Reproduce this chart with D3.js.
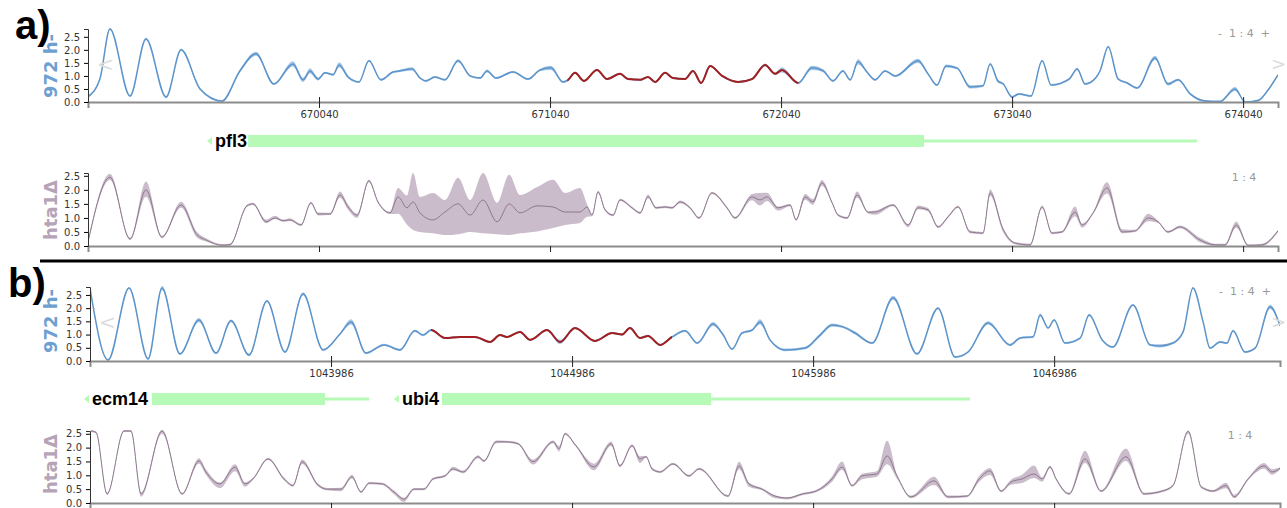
<!DOCTYPE html>
<html>
<head>
<meta charset="utf-8">
<script src="https://cdn.jsdelivr.net/npm/d3@7"></script>
<style>
  body { margin: 0; background: #fff; }
  svg { display: block; font-family: "DejaVu Sans", sans-serif; }
</style>
</head>
<body>
<svg id="chart" width="1287" height="508"></svg>
<script>
// genomic windows (bp offsets are relative to these starts)
var startA = 669040, startB = 1042986;
var spanA = [0, 5151], spanB = [0, 4937];
var ticksA = [1000, 2000, 3000, 4000, 5000];
var ticksB = [1000, 2000, 3000, 4000];
var yTicks = [0, 0.5, 1, 1.5, 2, 2.5];
var highlightA = [2075, 3075], highlightB = [1415, 2415];

// genes: name, arrow tip, thick start, thick end, thin end
var genesA = [["pfl3", 515, 693, 3619, 4801]];
var genesB = [["ecm14", -25, 257, 975, 1158], ["ubi4", 1261, 1460, 2577, 3651]];

// occupancy tracks: [pos, mean, spread] (wt) or [pos, mean, down, up] (hta1)
var wtA = [
  [0,0.2],[52,0.9],[95,2.8],[182,0.23],[251,2.42],[338,0.19],[403,2.0],[485,0.5],[580,0.04],
  [658,1.2,0.06],[727,1.85,0.08],[805,0.69],[887,1.46,0.1],[931,0.85,0.08],[961,1.19,0.1],[996,0.88,0.06],
  [1026,1.12],[1061,1.05],[1087,1.42,0.1],[1126,0.96,0.06],[1173,0.77],[1216,1.58],[1268,0.85],
  [1320,1.15],[1342,1.18],[1403,1.27,0.06],[1437,0.92],[1463,0.81],[1502,0.96],[1545,0.85],
  [1602,1.58,0.06],[1654,1.0],[1697,0.92],[1727,1.19,0.06],[1766,0.92],[1840,1.15],[1905,0.88],
  [1957,1.23],[2004,1.31,0.08],[2056,0.77],[2078,0.85],[2108,1.12],[2147,0.81],[2203,1.23],
  [2247,0.88],[2303,1.08],[2338,0.88],[2390,0.85],[2424,0.96],[2455,0.77],[2498,1.12],[2532,0.92],
  [2584,0.88],[2619,1.19],[2654,0.73],[2693,1.38],[2745,1.0],[2814,0.77],[2874,0.88],[2931,1.42,0.06],
  [2974,1.08],[3004,1.23,0.1],[3074,0.73],[3134,1.31,0.08],[3182,1.2,0.06],[3225,0.81],[3268,1.19],
  [3299,0.85],[3333,1.54,0.1],[3372,1.15],[3407,0.85],[3450,1.19],[3494,1.0],[3593,1.58,0.08],
  [3636,1.08],[3675,0.65],[3714,1.38,0.06],[3762,1.3],[3818,0.58,0.06],[3874,0.62],[3905,1.46],
  [3939,0.8,0.06],[3961,0.7],[4000,0.19],[4030,0.31],[4082,0.23],[4130,1.58],[4169,0.65],[4247,0.88],
  [4282,1.27],[4316,0.69],[4364,0.95],[4381,1.2],[4416,2.12],[4459,0.88],[4498,0.73],[4542,0.54],
  [4619,1.69,0.08],[4675,0.69,0.06],[4719,0.85],[4771,0.31],[4836,0.04],[4900,0.02],[4965,0.5,0.08],
  [5009,0.0],[5065,0.06],[5108,0.46],[5151,1.04]
];

var mutA = [
  [0,0.14],[95,2.45,0.1,0.12],[182,0.25],[251,2.0,0.25,0.3],[320,0.32],[403,1.46,0.1,0.12],
  [472,0.4,0.1,0.1],[515,0.2,0.05,0.06],[580,0.03],[615,0.05],[688,1.43],[714,1.5],[771,0.86,0.05,0.08],
  [810,1.0,0.04,0.08],[844,0.9],[874,0.93,0.04,0.06],[922,0.75],[965,1.54],[996,1.14,0.05,0.05],
  [1048,1.14],[1091,1.82,0.1,0.12],[1126,1.39,0.1,0.08],[1165,1.1,0.1,0.05],[1216,2.32,0.05,0.05],
  [1255,1.57],[1307,1.18],[1342,1.75,0.6,0.32],[1381,1.36,0.6,0.44],[1407,1.57,1.0,1.03],
  [1437,1.18,0.68,0.57],[1493,0.93,0.48,0.96],[1545,1.21,0.82,0.43],[1602,1.5,1.08,0.93],
  [1654,1.1,0.6,0.54],[1710,1.64,1.19,0.96],[1771,0.86,0.44,0.68],[1823,1.5,1.11,1.04],
  [1870,1.18,0.73,0.64],[1944,1.43,0.91,0.67],[2013,1.39,0.75,0.97],[2065,1.21,0.46,0.68],
  [2130,1.21,0.39,0.86],[2160,1.39,0.35,0.11],[2182,1.1],[2208,1.93],[2238,1.29],[2273,1.1],
  [2303,1.64],[2355,1.36],[2390,1.18],[2424,1.75,0.04,0.08],[2459,1.36],[2498,1.39],[2528,1.36],
  [2563,1.57,0.05,0.05],[2606,1.36],[2645,1.0],[2701,1.89],[2766,1.36],[2801,1.0],
  [2874,1.75,0.12,0.1],[2909,1.64,0.2,0.25],[2939,1.75,0.15,0.15],[2987,1.36,0.1,0.05],[3039,1.46],
  [3065,0.93],[3104,1.75,0.1,0.1],[3138,1.57,0.1,0.1],[3177,2.25,0.1,0.1],[3221,1.54],[3247,1.1],
  [3286,1.0],[3329,1.82,0.1,0.12],[3377,1.2],[3407,1.21,0.1,0.05],[3485,1.46],[3550,0.75,0.08,0.03],
  [3593,1.36,0.05,0.08],[3636,1.29,0.06,0.06],[3680,0.68],[3723,1.04],[3766,1.39],[3818,0.5,0.05,0.05],
  [3874,0.46],[3905,1.89,0.1,0.12],[3961,0.6,0.1,0.05],[4013,0.1],[4078,0.04],[4130,1.39,0.05,0.05],
  [4173,0.46],[4216,0.5],[4273,1.21,0.15,0.2],[4303,0.75,0.1,0.05],[4351,1.18],[4411,2.07,0.2,0.2],
  [4476,0.5,0.05,0.1],[4533,0.54],[4589,1.0,0.12,0.15],[4632,0.86],[4675,0.5],[4727,0.68,0.05,0.05],
  [4814,0.21,0.08,0.08],[4879,0.04],[4922,0.04],[4970,0.75,0.1,0.12],[5022,0.02],[5082,0.04],[5151,0.54]
];

var wtB = [
  [0,2.75],[75,0.04],[162,2.76],[241,0.08],[299,2.76,0.08],[373,0.27],[452,1.55,0.08],[523,0.3],
  [585,1.52,0.05],[660,0.23,0.05],[734,2.27],[809,0.34],[884,2.54,0.06],[967,0.42],[1037,1.02],
  [1083,1.48,0.1],[1145,0.3],[1220,0.61],[1286,0.42],[1348,1.14],[1382,0.98],[1415,1.17],
  [1473,0.87],[1535,0.91],[1597,0.91],[1660,0.72],[1701,0.98],[1730,0.91],[1784,1.1],[1826,0.8],
  [1896,1.17],[1950,0.72,0.08],[2012,1.25],[2095,0.76],[2166,1.06],[2207,1.0],[2240,1.25],[2282,0.87],
  [2315,0.95],[2365,0.61],[2415,0.91],[2469,1.14],[2519,0.68],[2585,1.4,0.08],[2626,1.0],[2664,0.45],
  [2705,1.06],[2747,1.17],[2780,1.48,0.1],[2821,0.8],[2884,0.42,0.05],[2967,0.49,0.05],[3029,0.98,0.06],
  [3079,1.36,0.06],[3124,1.29],[3174,1.06,0.06],[3245,0.68],[3332,2.39,0.08],[3431,0.27],[3518,2.0],
  [3589,0.15],[3643,0.34],[3726,1.44,0.06],[3817,0.61],[3859,0.87],[3913,0.92],[3942,1.74,0.06],
  [3975,1.25],[4000,1.55],[4045,0.68],[4108,0.87],[4145,1.74,0.05],[4199,0.8],[4244,0.53],[4327,2.12],
  [4398,0.61],[4439,0.57,0.06],[4493,0.68],[4535,1.1],[4576,2.76],[4618,1.48],[4647,0.49],[4688,0.72],
  [4717,0.68],[4742,1.14],[4792,0.34],[4834,0.49],[4896,2.05,0.08],[4937,1.33]
];

var mutB = [
  [4,2.6],[25,2.55],[71,0.33],[141,2.6],[170,2.6],[212,0.33,0.1,0.04],[299,2.6,0.1,0.05],[382,0.33],
  [452,1.52,0.1,0.1],[481,1.12,0.1,0.1],[539,0.69,0.15,0.05],[602,1.3,0.15,0.1],[643,0.69,0.1,0.05],
  [676,0.87],[739,1.59],[805,0.87,0.05,0.05],[842,0.63],[880,1.49,0.08,0.08],[946,0.65,0.05,0.05],
  [983,0.5],[1041,0.5,0.08,0.05],[1087,0.94,0.05,0.08],[1124,0.4],[1158,0.72],[1212,0.69],
  [1261,0.4,0.08,0.05],[1303,0.14,0.1,0.05],[1344,0.5],[1386,0.5],[1423,0.87],[1473,0.98],
  [1506,1.23,0.05,0.08],[1548,1.12,0.05,0.05],[1610,1.67,0.05,0.05],[1635,1.52],[1685,2.21,0.05,0.05],
  [1726,2.21],[1776,2.14],[1838,1.49,0.1,0.08],[1921,2.21,0.05,0.05],[1946,1.96,0.1,0.1],[1971,2.5],
  [2016,2.07],[2091,1.3,0.12,0.12],[2162,2.14,0.08,0.08],[2199,1.34,0.05,0.05],[2249,2.07,0.05,0.05],
  [2282,1.59,0.15,0.1],[2307,1.67],[2332,1.23,0.05,0.05],[2365,1.12],[2419,1.41],[2485,0.98],
  [2527,1.23],[2647,0.25],[2693,1.34,0.12,0.15],[2734,0.69,0.1,0.05],[2788,0.5],[2842,0.25,0.08,0.03],
  [2892,0.18,0.05,0.03],[2958,0.33],[3012,0.43],[3079,0.87,0.1,0.1],[3120,1.3,0.1,0.2],[3162,0.63],
  [3203,0.98,0.12,0.08],[3265,1.05,0.1,0.1],[3307,1.7,0.3,0.55],[3348,0.98,0.1,0.05],[3406,0.22,0.05,0.05],
  [3502,0.8,0.15,0.15],[3560,0.22,0.05,0.05],[3639,0.25],[3689,0.87,0.1,0.1],[3734,1.16,0.15,0.1],
  [3780,0.43],[3821,0.76,0.1,0.08],[3867,0.87,0.15,0.15],[3917,1.05,0.15,0.3],[3950,0.87,0.1,0.05],
  [3983,1.3,0.05,0.05],[4008,0.87],[4062,0.33],[4128,1.59,0.15,0.3],[4195,0.43],[4298,1.67,0.15,0.3],
  [4373,0.33],[4448,0.43],[4493,0.63],[4556,2.6,0.1,0],[4610,0.58],[4659,0.43],[4713,0.63,0.1,0.1],
  [4747,0.22,0.05,0.08],[4805,0.87],[4871,1.34,0.1,0.1],[4904,1.12,0.1,0.1],[4937,1.25]
];

var svg = d3.select("#chart");
var geneGreen = "#b7f9b7";

var panels = [
  { id: "a1", data: wtA, wt: true, start: startA, span: spanA, xr: [88, 1278], yr: [102, 29], ymax: 2.8,
    ticks: ticksA, labels: true, hl: highlightA, name: "972 h-", nameY: 66, ctrl: "-  1 : 4  +", ctrlX: 1244, ctrlY: 33 },
  { id: "a2", data: mutA, wt: false, start: startA, span: spanA, xr: [88, 1278], yr: [246, 173], ymax: 2.6,
    ticks: ticksA, labels: false, name: "hta1\u0394", nameY: 210, ctrl: "1 : 4", ctrlX: 1244, ctrlY: 177 },
  { id: "b1", data: wtB, wt: true, start: startB, span: spanB, xr: [90, 1280], yr: [361, 287], ymax: 2.8,
    ticks: ticksB, labels: true, hl: highlightB, name: "972 h-", nameY: 321, ctrl: "-  1 : 4  +", ctrlX: 1245, ctrlY: 291 },
  { id: "b2", data: mutB, wt: false, start: startB, span: spanB, xr: [90, 1280], yr: [503, 431], ymax: 2.6,
    ticks: ticksB, labels: false, name: "hta1\u0394", nameY: 464, ctrl: "1 : 4", ctrlX: 1240, ctrlY: 435 }
];

function lowVal(d) { return Math.max(0, d[1] - (d.length > 2 ? d[2] : 0.04)); }
function highVal(d) { return d[1] + (d.length > 3 ? d[3] : (d.length > 2 ? d[2] : 0.04)); }

function drawPanel(p) {
  var x = d3.scaleLinear().domain(p.span).range(p.xr);
  var y = d3.scaleLinear().domain([0, p.ymax]).range(p.yr);
  var g = svg.append("g");

  svg.append("clipPath").attr("id", "clip" + p.id).append("rect")
    .attr("x", p.xr[0]).attr("y", p.yr[1] - 1)
    .attr("width", p.xr[1] - p.xr[0]).attr("height", p.yr[0] - p.yr[1] + 1);

  var area = d3.area().curve(d3.curveMonotoneX)
    .x(function (d) { return x(d[0]); })
    .y0(function (d) { return y(lowVal(d)); })
    .y1(function (d) { return y(highVal(d)); });
  var line = d3.line().curve(d3.curveMonotoneX)
    .x(function (d) { return x(d[0]); })
    .y(function (d) { return y(d[1]); });

  var plot = g.append("g").attr("clip-path", "url(#clip" + p.id + ")");
  plot.append("path").datum(p.data).attr("d", area)
    .attr("fill", p.wt ? "#a6c6e6" : "#cbbccb");
  plot.append("path").datum(p.data).attr("d", line)
    .attr("fill", "none")
    .attr("stroke", p.wt ? "#5d95ca" : "#8b798d")
    .attr("stroke-width", p.wt ? 1.5 : 1);

  // highlighted stretch in red
  if (p.hl) {
    svg.append("clipPath").attr("id", "hl" + p.id).append("rect")
      .attr("x", x(p.hl[0])).attr("y", p.yr[1] - 5)
      .attr("width", x(p.hl[1]) - x(p.hl[0])).attr("height", p.yr[0] - p.yr[1] + 5);
    g.append("g").attr("clip-path", "url(#hl" + p.id + ")")
      .append("path").datum(p.data).attr("d", line)
      .attr("fill", "none").attr("stroke", "#a41f1f").attr("stroke-width", 2);
  }

  // x axis
  var xa = d3.axisBottom(x).tickValues(p.ticks).tickSize(6).tickPadding(3)
    .tickFormat(p.labels ? function (d) { return String(p.start + d); } : function () { return ""; });
  var gx = g.append("g").attr("transform", "translate(0," + p.yr[0] + ")").call(xa);
  gx.select(".domain").attr("stroke", "#8c8c8c").attr("stroke-width", 2);
  gx.selectAll(".tick line").attr("stroke", "#222");
  if (p.labels) gx.selectAll(".tick line").attr("y1", -5);
  gx.selectAll("text").attr("fill", "#333").style("font-size", "10px")
    .style("font-family", "DejaVu Sans, sans-serif");

  // y axis
  var ya = d3.axisLeft(y).tickValues(yTicks).tickFormat(d3.format(".1f")).tickSize(4).tickPadding(4);
  var gy = g.append("g").attr("transform", "translate(" + p.xr[0] + ",0)").call(ya);
  gy.select(".domain").attr("stroke", "#333");
  gy.selectAll("text").attr("fill", "#333").style("font-size", "10px")
    .style("font-family", "DejaVu Sans, sans-serif");

  // track name
  g.append("text")
    .attr("transform", "translate(57," + p.nameY + ") rotate(-90)")
    .attr("text-anchor", "middle")
    .style("font-size", "18px").style("font-weight", "bold")
    .attr("fill", p.wt ? "#6da0d1" : "#b5a3b7")
    .text(p.name);

  // zoom control
  g.append("text").attr("x", p.ctrlX).attr("y", p.ctrlY).attr("dy", "0.35em")
    .attr("text-anchor", "middle").style("font-size", "11px").attr("fill", "#999")
    .attr("xml:space", "preserve").style("white-space", "pre")
    .text(p.ctrl);

  if (p.wt) {
    var midY = (p.yr[0] + p.yr[1]) / 2;
    g.append("text").attr("x", p.xr[0] + 9).attr("y", midY - 2).attr("dy", "0.35em")
      .style("font-size", "20px").attr("fill", "#dcdcdc").text("<");
    g.append("text").attr("x", 1271).attr("y", midY - 2).attr("dy", "0.35em")
      .style("font-size", "18px").attr("fill", "#dcdcdc").text(">");
  }
  return x;
}

function drawGenes(genes, x, cy) {
  var g = svg.append("g");
  genes.forEach(function (gn) {
    var tip = x(gn[1]);
    g.append("line").attr("x1", x(gn[3])).attr("x2", x(gn[4])).attr("y1", cy).attr("y2", cy)
      .attr("stroke", geneGreen).attr("stroke-width", 3);
    g.append("rect").attr("x", x(gn[2])).attr("y", cy - 6)
      .attr("width", x(gn[3]) - x(gn[2])).attr("height", 12).attr("fill", geneGreen);
    g.append("path").attr("d", "M" + tip + "," + cy + "l5,-4v8z").attr("fill", geneGreen);
    g.append("text").attr("x", tip + 8).attr("y", cy).attr("dy", "0.36em")
      .style("font-family", "Liberation Sans, Arial, sans-serif")
      .style("font-size", "18px").style("font-weight", "bold").attr("fill", "#000")
      .text(gn[0]);
  });
}

var xA = drawPanel(panels[0]);
drawPanel(panels[1]);
var xB = drawPanel(panels[2]);
drawPanel(panels[3]);
drawGenes(genesA, xA, 141);
drawGenes(genesB, xB, 399);

// separator and panel letters
svg.append("line").attr("x1", 40).attr("x2", 1287).attr("y1", 261).attr("y2", 261)
  .attr("stroke", "#000").attr("stroke-width", 3);
svg.append("text").attr("x", 15).attr("y", 39)
  .style("font-family", "Liberation Sans, Arial, sans-serif")
  .style("font-size", "40px").style("font-weight", "bold").text("a)");
svg.append("text").attr("x", 8).attr("y", 297)
  .style("font-family", "Liberation Sans, Arial, sans-serif")
  .style("font-size", "40px").style("font-weight", "bold").text("b)");
</script>
</body>
</html>
